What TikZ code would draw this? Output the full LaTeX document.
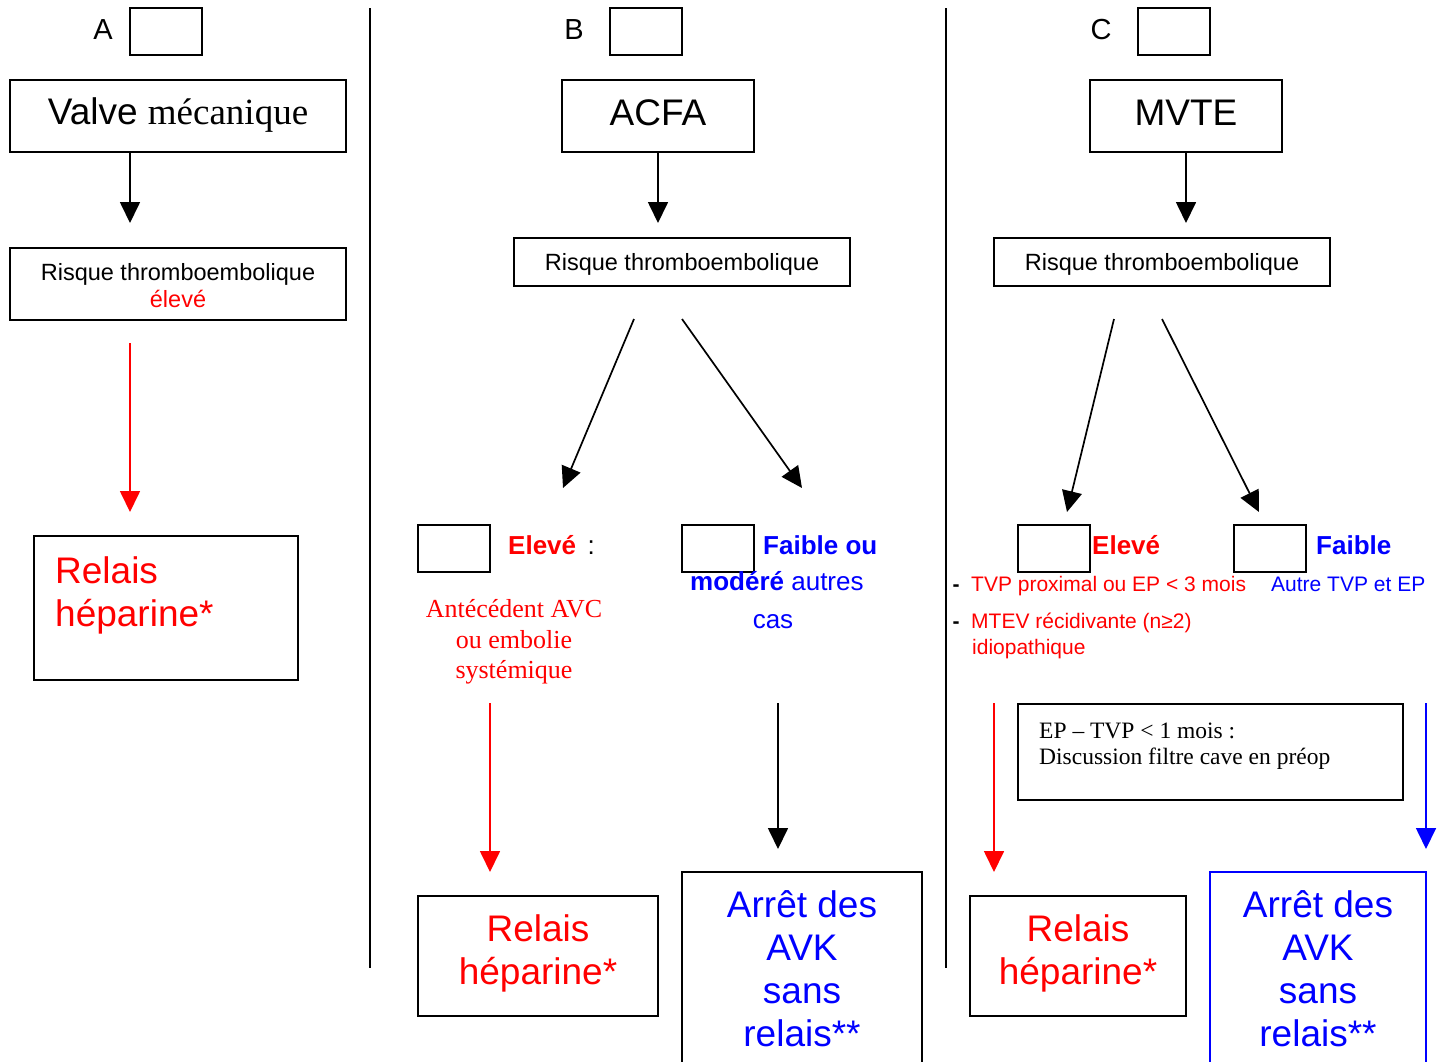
\documentclass[tikz,border=0pt]{standalone}
\usepackage{fontspec}
\setmainfont{Liberation Serif}
\setsansfont{Liberation Sans}
\usetikzlibrary{arrows.meta,fit}
\definecolor{rd}{RGB}{255,0,0}
\definecolor{bl}{RGB}{0,0,255}
\newcommand\fsz[2]{\fontsize{#1}{#2}\selectfont}
\tikzset{
  box/.style={draw=black, line width=2pt, inner sep=0pt, rectangle},
  arr/.style={line width=1.7pt, -{Triangle[length=21pt,width=20pt]}},
  sep/.style={line width=2pt},
  txt/.style={inner sep=0pt, font=\sffamily},
  lab/.style={txt, anchor=base, font=\sffamily\fsz{29}{34}},
  big/.style={txt, font=\sffamily\fsz{37}{43}},
  mid/.style={txt, font=\sffamily\fsz{23.5}{27}},
  bold/.style={txt, font=\sffamily\bfseries\fsz{26}{30}},
  norm/.style={txt, font=\sffamily\fsz{26}{30}},
  small/.style={txt, font=\sffamily\fsz{21}{25}},
  serifr/.style={txt, font=\rmfamily\fsz{26}{31}},
  serifs/.style={txt, font=\rmfamily\fsz{23.5}{27}}
}
\begin{document}
\begin{tikzpicture}[x=1pt,y=-1pt]
\useasboundingbox (0,0) rectangle (1446,1061);
\fill[white] (0,0) rectangle (1446,1061);

% separators
\coordinate (s1t) at (370,8); \coordinate (s1b) at (370,968);
\coordinate (s2t) at (946,8); \coordinate (s2b) at (946,968);
\draw[sep] (s1t) -- (s1b);
\draw[sep] (s2t) -- (s2b);

% ================= Column A =================
\node[lab] (labA) at (103,39) {A};
\node[box, fit={(130,8) (202,55)}] (smA) {};
\node[box, fit={(10,80) (346,152)}] (valve) {};
\node[txt, anchor=base, font=\fsz{37}{43}] (valveT) at (178,124) {\sffamily Valve \rmfamily mécanique};
\coordinate (tA) at (130,223);
\draw[arr] (valve.south -| tA) -- (tA);
\node[box, fit={(10,248) (346,320)}] (riskA) {};
\node[mid, anchor=base] (riskAT) at (178,280) {Risque thromboembolique};
\node[mid, anchor=base, text=rd] (riskAE) at (178,307) {élevé};
\coordinate (rA1) at (130,343); \coordinate (rA2) at (130,512);
\draw[arr, draw=rd, fill=rd] (rA1) -- (rA2);
\node[box, fit={(34,536) (298,680)}] (relA) {};
\node[big, anchor=base west, text=rd] (relA1) at (55,583) {Relais};
\node[big, anchor=base west, text=rd] (relA2) at (55,626) {héparine*};

% ================= Column B =================
\node[lab] (labB) at (574,39) {B};
\node[box, fit={(610,8) (682,55)}] (smB) {};
\node[box, fit={(562,80) (754,152)}] (acfa) {};
\node[big, anchor=base] (acfaT) at (658,125) {ACFA};
\coordinate (tB) at (658,223);
\draw[arr] (acfa.south) -- (tB);
\node[box, fit={(514,238) (850,286)}] (riskB) {};
\node[mid, anchor=base] (riskBT) at (682,270) {Risque thromboembolique};
\coordinate (dB1s) at (634,319); \coordinate (dB1e) at (563,488);
\coordinate (dB2s) at (682,319); \coordinate (dB2e) at (802,488);
\draw[arr] (dB1s) -- (dB1e);
\draw[arr] (dB2s) -- (dB2e);
\node[box, fit={(418,525) (490,572)}] (bEl) {};
\node[bold, anchor=base west, text=rd] (bElT) at (508,554) {Elevé\,\mdseries\color{black}\ :};
\node[box, fit={(682,525) (754,572)}] (bFa) {};
\node[bold, anchor=base west, text=bl] (bFaT1) at (763,554) {Faible ou};
\node[bold, anchor=base west, text=bl] (bFaT2) at (690,590) {modéré \mdseries autres};
\node[norm, anchor=base, text=bl] (bFaT3) at (773,628) {cas};
\node[serifr, anchor=base, text=rd] (bAnt1) at (514,617) {Antécédent AVC};
\node[serifr, anchor=base, text=rd] (bAnt2) at (514,648) {ou embolie};
\node[serifr, anchor=base, text=rd] (bAnt3) at (514,678) {systémique};
\coordinate (rB1) at (490,703); \coordinate (rB2) at (490,872);
\draw[arr, draw=rd, fill=rd] (rB1) -- (rB2);
\coordinate (kB1) at (778,703); \coordinate (kB2) at (778,849);
\draw[arr] (kB1) -- (kB2);
\node[box, fit={(418,896) (658,1016)}] (relB) {};
\node[big, anchor=base, text=rd] (relB1) at (538,941) {Relais};
\node[big, anchor=base, text=rd] (relB2) at (538,984) {héparine*};
\node[box, fit={(682,872) (922,1068)}] (arrB) {};
\node[big, anchor=base, text=bl] (arrB1) at (802,917) {Arrêt des};
\node[big, anchor=base, text=bl] (arrB2) at (802,960) {AVK};
\node[big, anchor=base, text=bl] (arrB3) at (802,1003) {sans};
\node[big, anchor=base, text=bl] (arrB4) at (802,1046) {relais**};

% ================= Column C =================
\node[lab] (labC) at (1101,39) {C};
\node[box, fit={(1138,8) (1210,55)}] (smC) {};
\node[box, fit={(1090,80) (1282,152)}] (mvte) {};
\node[big, anchor=base] (mvteT) at (1186,125) {MVTE};
\coordinate (tC) at (1186,223);
\draw[arr] (mvte.south) -- (tC);
\node[box, fit={(994,238) (1330,286)}] (riskC) {};
\node[mid, anchor=base] (riskCT) at (1162,270) {Risque thromboembolique};
\coordinate (dC1s) at (1114,319); \coordinate (dC1e) at (1067,512);
\coordinate (dC2s) at (1162,319); \coordinate (dC2e) at (1259,512);
\draw[arr] (dC1s) -- (dC1e);
\draw[arr] (dC2s) -- (dC2e);
\node[box, fit={(1018,525) (1090,572)}] (cEl) {};
\node[bold, anchor=base west, text=rd] (cElT) at (1092,554) {Elevé};
\node[box, fit={(1234,525) (1306,572)}] (cFa) {};
\node[bold, anchor=base west, text=bl] (cFaT) at (1316,554) {Faible};
\node[small, anchor=base, font=\sffamily\bfseries\fsz{21}{25}] (dash1) at (956,591) {-};
\node[small, anchor=base west, text=rd] (cL1) at (971,591) {TVP proximal ou EP < 3 mois};
\node[small, anchor=base west, text=bl] (cR1) at (1271,591) {Autre TVP et EP};
\node[small, anchor=base, font=\sffamily\bfseries\fsz{21}{25}] (dash2) at (956,628) {-};
\node[small, anchor=base west, text=rd] (cL2) at (971,628) {MTEV récidivante (n≥2)};
\node[small, anchor=base west, text=rd] (cL3) at (972,654) {idiopathique};
\node[box, fit={(1018,704) (1403,800)}] (ep) {};
\node[serifs, anchor=base west] (ep1) at (1039,738) {EP – TVP < 1 mois :};
\node[serifs, anchor=base west] (ep2) at (1039,764) {Discussion filtre cave en préop};
\coordinate (rC1) at (994,703); \coordinate (rC2) at (994,872);
\draw[arr, draw=rd, fill=rd] (rC1) -- (rC2);
\coordinate (uC1) at (1426,703); \coordinate (uC2) at (1426,849);
\draw[arr, draw=bl, fill=bl] (uC1) -- (uC2);
\node[box, fit={(970,896) (1186,1016)}] (relC) {};
\node[big, anchor=base, text=rd] (relC1) at (1078,941) {Relais};
\node[big, anchor=base, text=rd] (relC2) at (1078,984) {héparine*};
\node[box, draw=bl, fit={(1210,872) (1426,1068)}] (arrC) {};
\node[big, anchor=base, text=bl] (arrC1) at (1318,917) {Arrêt des};
\node[big, anchor=base, text=bl] (arrC2) at (1318,960) {AVK};
\node[big, anchor=base, text=bl] (arrC3) at (1318,1003) {sans};
\node[big, anchor=base, text=bl] (arrC4) at (1318,1046) {relais**};
\end{tikzpicture}
\end{document}
